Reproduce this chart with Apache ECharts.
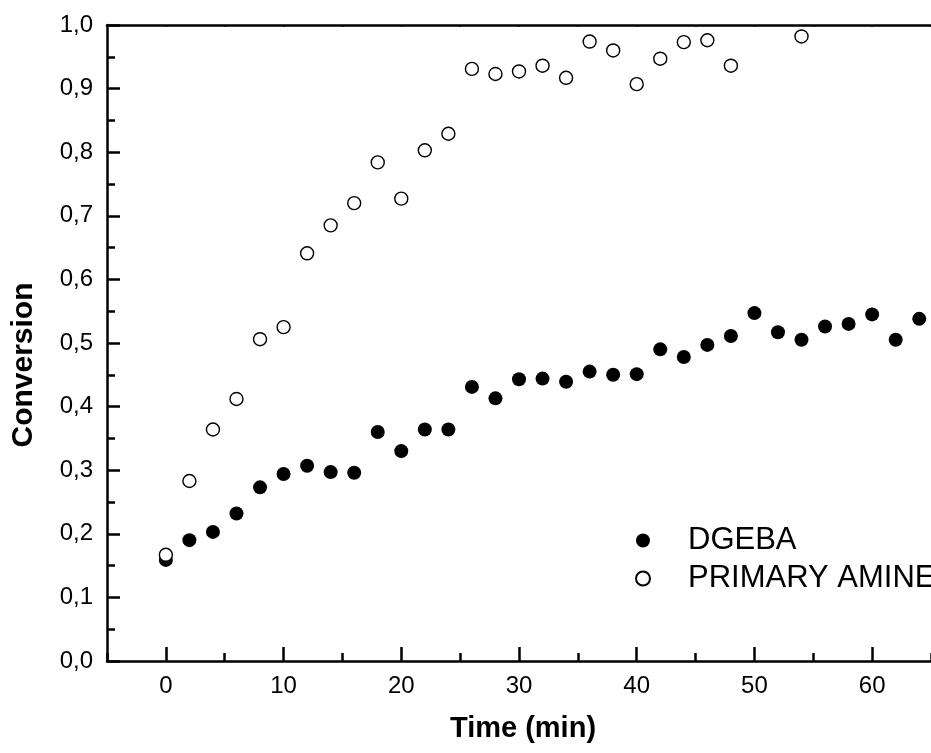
<!DOCTYPE html>
<html>
<head>
<meta charset="utf-8">
<script src="https://cdn.jsdelivr.net/npm/echarts@6/dist/echarts.min.js"></script>
<style>
html,body{margin:0;padding:0;background:#fff;}
#chart{width:931px;height:753px;}
</style>
</head>
<body>
<div id="chart"></div>
<script>
const FONT = "'Liberation Sans', Arial, sans-serif";

const dgebaTime = [0,2,4,6,8,10,12,14,16,18,20,22,24,26,28,30,32,34,36,38,40,42,44,46,48,50,52,54,56,58,60,62,64];
const dgebaConv = [0.159,0.190,0.203,0.232,0.273,0.294,0.307,0.297,0.296,0.360,0.330,0.364,0.364,0.431,0.413,0.443,0.444,0.439,0.455,0.450,0.451,0.490,0.478,0.497,0.511,0.547,0.517,0.505,0.526,0.530,0.545,0.505,0.538];

const amineTime = [0,2,4,6,8,10,12,14,16,18,20,22,24,26,28,30,32,34,36,38,40,42,44,46,48,54];
const amineConv = [0.167,0.283,0.364,0.412,0.506,0.525,0.641,0.685,0.720,0.784,0.727,0.803,0.829,0.931,0.923,0.927,0.936,0.917,0.974,0.960,0.907,0.947,0.973,0.976,0.936,0.982];

const seriesNames = ['DGEBA', 'PRIMARY AMINE'];
const xTitle = 'Time (min)';
const yTitle = 'Conversion';

const pairs = (xs, ys) => xs.map((x, i) => [x, ys[i]]);

const chart = echarts.init(document.getElementById('chart'), null, {renderer: 'canvas'});
const lineW = 2.5;
chart.setOption({
  animation: false,
  backgroundColor: '#ffffff',
  grid: {left: 107, top: 25, width: 831, height: 636, containLabel: false},
  xAxis: [
    {
      type: 'value', min: -5, max: 65, position: 'bottom',
      axisLine: {show: true, onZero: false, lineStyle: {color: '#000', width: lineW}},
      axisTick: {show: true, inside: true, length: 14, lineStyle: {color: '#000', width: lineW}},
      axisLabel: {show: true, margin: 13, color: '#000', fontSize: 24, fontFamily: FONT, showMinLabel: false, showMaxLabel: false},
      splitLine: {show: false}
    },
    {
      type: 'value', min: -5, max: 65, interval: 5, position: 'bottom',
      axisLine: {show: false, onZero: false},
      axisTick: {show: true, inside: true, length: 8, lineStyle: {color: '#000', width: lineW}},
      axisLabel: {show: false},
      splitLine: {show: false}
    },
    {
      type: 'value', min: -5, max: 65, interval: 5, position: 'top',
      axisLine: {show: true, onZero: false, lineStyle: {color: '#000', width: lineW}},
      axisTick: {show: true, inside: true, length: 2, lineStyle: {color: '#000', width: 1.5}},
      axisLabel: {show: false},
      splitLine: {show: false}
    }
  ],
  yAxis: [
    {
      type: 'value', min: 0, max: 1, interval: 0.1, position: 'left',
      axisLine: {show: true, onZero: false, lineStyle: {color: '#000', width: lineW}},
      axisTick: {show: true, inside: true, length: 13, lineStyle: {color: '#000', width: lineW}},
      minorTick: {show: true, splitNumber: 2, length: 8, lineStyle: {color: '#000', width: lineW}},
      axisLabel: {show: true, margin: 14, color: '#000', fontSize: 24, fontFamily: FONT,
        formatter: v => v.toFixed(1).replace('.', ',')},
      splitLine: {show: false}
    }
  ],
  legend: {
    orient: 'vertical',
    left: 630, top: 520,
    itemWidth: 14, itemHeight: 14, itemGap: 7,
    textStyle: {color: '#000', fontSize: 31, fontFamily: FONT, lineHeight: 31, padding: [0, 0, 0, 33]},
    data: seriesNames
  },
  graphic: [
    {type: 'text', x: 523, y: 729,
      style: {text: xTitle, fill: '#000', fontSize: 29, fontWeight: 'bold', fontFamily: FONT, align: 'center', verticalAlign: 'middle'}},
    {type: 'text', x: 24, y: 365, rotation: Math.PI / 2,
      style: {text: yTitle, fill: '#000', fontSize: 30, fontWeight: 'bold', fontFamily: FONT, align: 'center', verticalAlign: 'middle'}}
  ],
  series: [
    {
      name: seriesNames[0], type: 'scatter', xAxisIndex: 0, yAxisIndex: 0,
      symbol: 'circle', symbolSize: 14,
      itemStyle: {color: '#000', borderWidth: 0, opacity: 1},
      emphasis: {disabled: true},
      data: pairs(dgebaTime, dgebaConv), z: 2
    },
    {
      name: seriesNames[1], type: 'scatter', xAxisIndex: 0, yAxisIndex: 0,
      symbol: 'circle', symbolSize: 13,
      itemStyle: {color: '#fff', borderColor: '#000', borderWidth: 1.4, opacity: 1},
      emphasis: {disabled: true},
      data: pairs(amineTime, amineConv), z: 3
    }
  ]
});
</script>
</body>
</html>
